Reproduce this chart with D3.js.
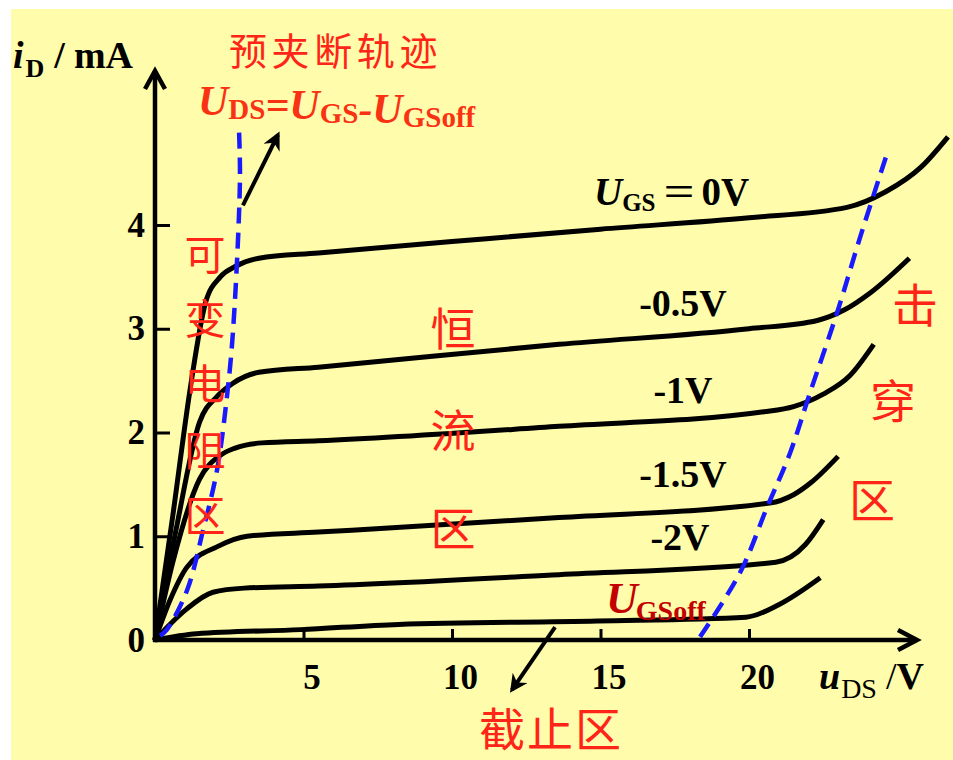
<!DOCTYPE html>
<html>
<head>
<meta charset="utf-8">
<script src="https://cdn.jsdelivr.net/npm/d3@7"></script>
<style>
html, body { margin: 0; padding: 0; background: #fff; }
svg { display: block; }
</style>
</head>
<body>
<div id="chart"></div>
<script>
// output curves: [u_DS in V, i_D in mA]
let ugs0 = [[0, 0], [0.6, 1.2], [1.2, 2.45], [1.7, 3.25], [2.2, 3.5], [2.7, 3.6], [3.5, 3.68], [5.5, 3.73], [10, 3.84], [15, 3.96], [20, 4.07], [23.3, 4.17], [24.6, 4.32], [25.8, 4.56], [26.7, 4.85]]
let ugs05 = [[0, 0], [0.7, 1.05], [1.5, 2.1], [2.1, 2.35], [2.6, 2.47], [3.5, 2.58], [5.5, 2.63], [13.6, 2.85], [20, 3.0], [22.3, 3.08], [23.2, 3.18], [24.1, 3.35], [25.4, 3.68]]
let ugs1 = [[0, 0], [0.6, 0.75], [1.5, 1.55], [2.2, 1.78], [2.7, 1.85], [3.6, 1.9], [5.5, 1.92], [13.6, 2.06], [20.5, 2.2], [21.5, 2.25], [22.5, 2.37], [23.4, 2.55], [24.2, 2.85]]
let ugs15 = [[0, 0], [0.5, 0.38], [1.07, 0.7], [2.1, 0.9], [3.1, 1.0], [5.5, 1.04], [13.6, 1.18], [20.7, 1.32], [21.5, 1.4], [22.1, 1.52], [23.0, 1.77]]
let ugs2 = [[0, 0], [0.5, 0.15], [1.07, 0.3], [1.95, 0.46], [3, 0.5], [5.5, 0.52], [13.6, 0.63], [20.9, 0.75], [21.9, 0.92], [22.5, 1.16]]
let ugsOff = [[0, 0], [1.4, 0.06], [4.9, 0.1], [8.2, 0.15], [14.9, 0.183], [19.9, 0.22], [21, 0.34], [22.4, 0.6]]

// dashed boundaries
let pinchLocus = [[0.17, 0.04], [0.4, 0.1], [1.08, 0.48], [1.62, 1.06], [2.09, 1.64], [2.42, 2.34], [2.63, 2.99], [2.86, 4.43], [2.83, 4.9]]
let breakLocus = [[18.35, 0.03], [19.7, 0.65], [20.61, 1.28], [21.38, 1.8], [22.05, 2.38], [22.96, 3.15], [23.74, 3.88], [24.65, 4.69]]

let xTicks = [5, 10, 15, 20]
let yTicks = [0, 1, 2, 3, 4]
let curveLabels = ['-0.5V', '-1V', '-1.5V', '-2V']

// annotation arrows, [from, to] in data units
let arrowPinch = [[2.96, 4.19], [4.14, 4.87]]
let arrowCut = [[13.47, 0.125], [12.02, -0.48]]

let W = 953
let H = 760
let serif = "'Liberation Serif', 'Times New Roman', serif"
let cjk = "'Noto Sans CJK SC', sans-serif"
let red = '#ff2418'

let svg = d3
	.select('#chart')
	.append('svg')
	.attr('width', W)
	.attr('height', H)

svg.append('rect')
	.attr('x', 11)
	.attr('y', 9)
	.attr('width', W - 11)
	.attr('height', H - 9)
	.attr('fill', '#fffcab')

let x = d3.scaleLinear().domain([0, 20]).range([155, 749])
let y = d3.scaleLinear().domain([0, 4]).range([640, 225])

// axes
let yAxis = svg.append('g')
	.attr('transform', `translate(${x(0)},0)`)
	.call(d3.axisLeft(y).tickValues(yTicks).tickSizeInner(-15).tickSizeOuter(0).tickPadding(10).tickFormat(d3.format('d')))
yAxis.select('.domain').remove()
yAxis.selectAll('line').attr('stroke', '#000').attr('stroke-width', 3)
yAxis.selectAll('text')
	.attr('font-family', serif)
	.attr('font-weight', 'bold')
	.attr('font-size', 35)
	.attr('fill', '#000')

let xAxis = svg.append('g')
	.attr('transform', `translate(0,${y(0)})`)
	.call(d3.axisBottom(x).tickValues(xTicks).tickSizeInner(-11).tickSizeOuter(0).tickFormat(d3.format('d')))
xAxis.select('.domain').remove()
xAxis.selectAll('line').attr('stroke', '#000').attr('stroke-width', 3)
xAxis.selectAll('text')
	.attr('font-family', serif)
	.attr('font-weight', 'bold')
	.attr('font-size', 35)
	.attr('fill', '#000')
	.attr('x', 8)
	.attr('y', 49)
	.attr('dy', null)

svg.append('line')
	.attr('x1', x(0)).attr('y1', y(0) + 2)
	.attr('x2', x(0)).attr('y2', 71)
	.attr('stroke', '#000').attr('stroke-width', 4.5)
svg.append('path')
	.attr('d', `M${x(0) - 10},${89} L${x(0)},${71} L${x(0) + 10},${89}`)
	.attr('fill', 'none').attr('stroke', '#000').attr('stroke-width', 4.5)
svg.append('line')
	.attr('x1', x(0) - 2).attr('y1', y(0))
	.attr('x2', 917).attr('y2', y(0))
	.attr('stroke', '#000').attr('stroke-width', 4.5)
svg.append('path')
	.attr('d', `M${898},${y(0) - 10} L${917},${y(0)} L${898},${y(0) + 10}`)
	.attr('fill', 'none').attr('stroke', '#000').attr('stroke-width', 4.5)

// curves
let line = d3.line().x(d => x(d[0])).y(d => y(d[1])).curve(d3.curveMonotoneX)
let curves = [ugs0, ugs05, ugs1, ugs15, ugs2, ugsOff]
curves.forEach(c => {
	svg.append('path')
		.attr('d', line(c))
		.attr('fill', 'none')
		.attr('stroke', '#000')
		.attr('stroke-width', 5)
		.attr('stroke-linejoin', 'round')
})

let dashLine = d3.line().x(d => x(d[0])).y(d => y(d[1])).curve(d3.curveCatmullRom)
;[pinchLocus, breakLocus].forEach(c => {
	svg.append('path')
		.attr('d', dashLine(c))
		.attr('fill', 'none')
		.attr('stroke', '#1a1aff')
		.attr('stroke-width', 4.5)
		.attr('stroke-dasharray', '16,9')
})

// arrows
svg.append('defs')
	.append('marker')
	.attr('id', 'head')
	.attr('viewBox', '0 0 10 10')
	.attr('refX', 8)
	.attr('refY', 5)
	.attr('markerUnits', 'userSpaceOnUse')
	.attr('markerWidth', 20)
	.attr('markerHeight', 18)
	.attr('orient', 'auto')
	.append('path')
	.attr('d', 'M0,0 L10,5 L0,10 L3,5 Z')
	.attr('fill', '#000')
;[arrowPinch, arrowCut].forEach(a => {
	svg.append('line')
		.attr('x1', x(a[0][0])).attr('y1', y(a[0][1]))
		.attr('x2', x(a[1][0])).attr('y2', y(a[1][1]))
		.attr('stroke', '#000')
		.attr('stroke-width', 4)
		.attr('marker-end', 'url(#head)')
})

// axis titles
let yTitle = svg.append('text')
	.attr('x', 13).attr('y', 68)
	.attr('font-family', serif).attr('font-weight', 'bold').attr('font-size', 38)
yTitle.append('tspan').attr('font-style', 'italic').text('i')
yTitle.append('tspan').attr('font-size', 26).attr('dy', 9).attr('dx', 2).text('D')
yTitle.append('tspan').attr('dy', -9).attr('dx', 10).text('/')
yTitle.append('tspan').attr('dx', 9).text('mA')

let xTitle = svg.append('text')
	.attr('x', 819).attr('y', 689)
	.attr('font-family', serif).attr('font-weight', 'bold').attr('font-size', 38)
xTitle.append('tspan').attr('font-style', 'italic').text('u')
xTitle.append('tspan').attr('font-size', 28).attr('dy', 9).attr('dx', 1).attr('font-weight', 'normal').text('DS')
xTitle.append('tspan').attr('dy', -9).attr('dx', 9).attr('font-weight', 'normal').text('/')
xTitle.append('tspan').attr('dx', 0).text('V')

// pinch-off locus title and formula
svg.append('text')
	.attr('x', 229).attr('y', 48)
	.attr('dominant-baseline', 'central')
	.attr('font-family', cjk).attr('font-size', 38)
	.attr('letter-spacing', 4.6)
	.attr('fill', red)
	.text('预夹断轨迹')

let formula = svg.append('text')
	.attr('x', 198).attr('y', 115)
	.attr('font-family', serif).attr('font-weight', 'bold').attr('font-size', 42)
	.attr('fill', '#fa3214')
let fParts = [['U', 'DS'], ['=U', 'GS'], ['-U', 'GSoff']]
fParts.forEach(p => {
	formula.append('tspan').attr('font-style', 'italic').text(p[0])
	formula.append('tspan').attr('font-size', 29).attr('dy', 4).text(p[1])
	formula.append('tspan').attr('dy', -4).text('')
})

// region labels
let vText = (chars, xs, ys, size) => {
	chars.split('').forEach((ch, i) => {
		svg.append('text')
			.attr('x', xs[i]).attr('y', ys[i])
			.attr('text-anchor', 'middle')
			.attr('dominant-baseline', 'central')
			.attr('font-family', cjk).attr('font-size', size)
			.attr('fill', red)
			.text(ch)
	})
}
vText('可变电阻区', [205, 205, 205, 205, 205], [252, 316, 381, 448, 513], 41)
vText('恒流区', [453, 453, 453], [326, 428, 526], 45)
vText('击穿区', [915, 893, 872], [302, 398, 497], 46)

svg.append('text')
	.attr('x', 551).attr('y', 726)
	.attr('text-anchor', 'middle')
	.attr('dominant-baseline', 'central')
	.attr('font-family', cjk).attr('font-size', 46)
	.attr('letter-spacing', 2)
	.attr('fill', red)
	.text('截止区')

// U_GSoff label
let off = svg.append('text')
	.attr('x', 606).attr('y', 613)
	.attr('font-family', serif).attr('font-weight', 'bold').attr('font-size', 44)
	.attr('fill', '#c40000')
off.append('tspan').attr('font-style', 'italic').text('U')
off.append('tspan').attr('font-size', 28).attr('dy', 7).attr('dx', -2).text('GSoff')

// curve labels
let l0 = svg.append('text')
	.attr('x', 594).attr('y', 205)
	.attr('font-family', serif).attr('font-weight', 'bold').attr('font-size', 39)
	.attr('fill', '#000')
l0.append('tspan').attr('font-style', 'italic').text('U')
l0.append('tspan').attr('font-size', 25).attr('dy', 6).text('GS')
l0.append('tspan').attr('dy', -6).attr('dx', 6).attr('font-family', cjk).attr('font-weight', 'normal').attr('font-size', 35).text('＝')
l0.append('tspan').attr('dx', 5).text('0V')

let labelPos = [[683, 316], [683, 403], [683, 487], [680, 550]]
curveLabels.forEach((t, i) => {
	svg.append('text')
		.attr('x', labelPos[i][0]).attr('y', labelPos[i][1])
		.attr('text-anchor', 'middle')
		.attr('font-family', serif).attr('font-weight', 'bold').attr('font-size', 38)
		.attr('fill', '#000')
		.text(t)
})
</script>
</body>
</html>
